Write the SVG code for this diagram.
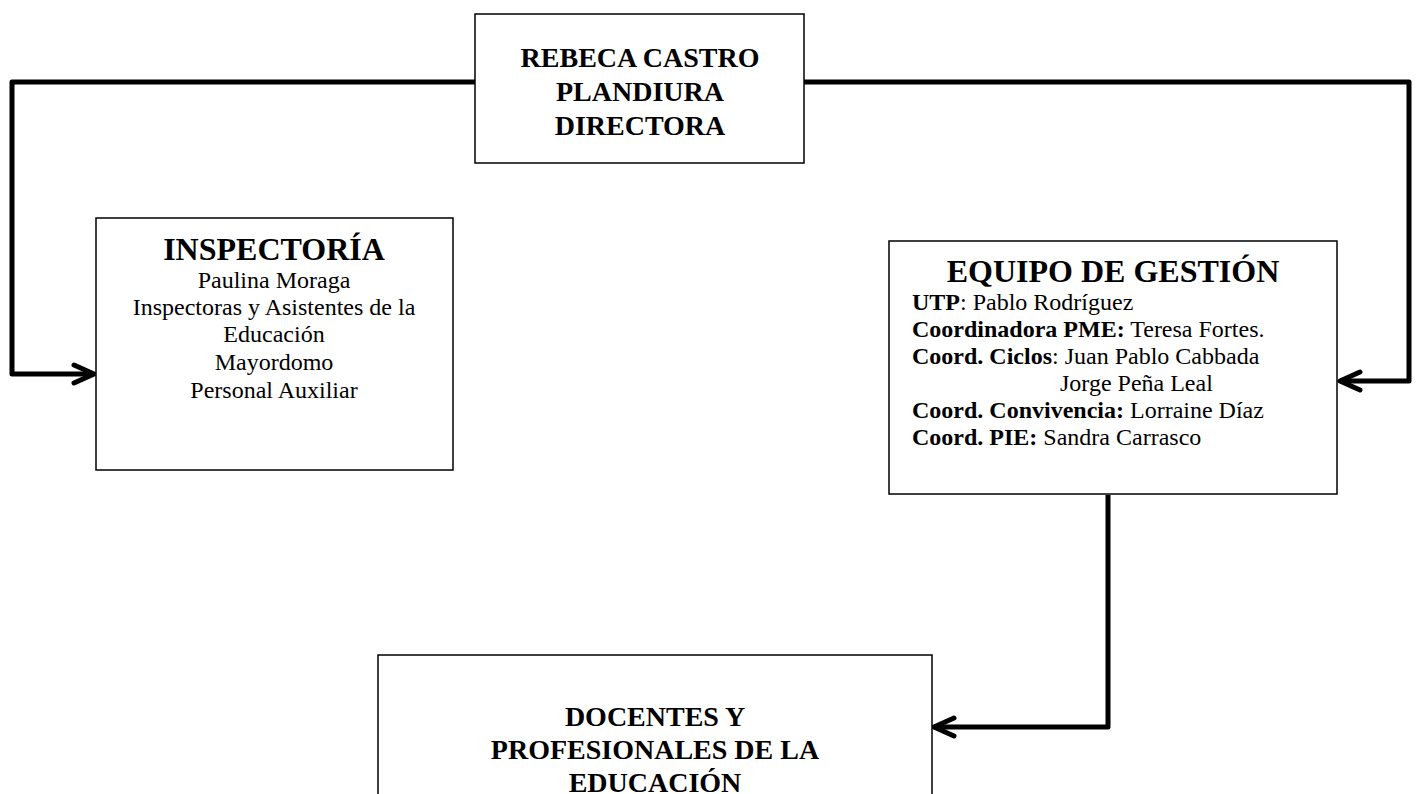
<svg xmlns="http://www.w3.org/2000/svg" width="1417" height="794" viewBox="0 0 1417 794">
<style>
.box{fill:#fff;stroke:#000;stroke-width:1.5}
.t{font-family:"Liberation Serif","Times New Roman",serif;fill:#000}
.h{font-weight:bold;font-size:28px;text-anchor:middle}
.h2{font-weight:bold;font-size:32px;text-anchor:middle}
.b{font-size:24px}
.c{text-anchor:middle}
.k{font-weight:bold}
.conn{fill:none;stroke:#000;stroke-width:5;stroke-linejoin:round}
</style>
<defs>
<marker id="arr" viewBox="0 0 26 24" refX="23" refY="12" markerWidth="26" markerHeight="24" markerUnits="userSpaceOnUse" orient="auto">
<path d="M3,3 L23,12 L3,21" fill="none" stroke="#000" stroke-width="5" stroke-linecap="round" stroke-linejoin="round"/>
</marker>
</defs>
<g id="connectors">
<path class="conn" d="M475,82 H12 V374 H94" marker-end="url(#arr)"/>
<path class="conn" d="M804,82 H1409 V381 H1340" marker-end="url(#arr)"/>
<path class="conn" d="M1108,495 V727 H934" marker-end="url(#arr)"/>
</g>
<g id="directora">
<rect class="box" x="475" y="14" width="329" height="149"/>
<text class="t h" x="640" y="67">REBECA CASTRO</text>
<text class="t h" x="640" y="101">PLANDIURA</text>
<text class="t h" x="640" y="135">DIRECTORA</text>
</g>
<g id="inspectoria">
<rect class="box" x="96" y="218" width="357" height="252"/>
<text class="t h2" x="274" y="260">INSPECTORÍA</text>
<text class="t b c" x="274" y="288">Paulina Moraga</text>
<text class="t b c" x="274" y="315">Inspectoras y Asistentes de la</text>
<text class="t b c" x="274" y="342">Educación</text>
<text class="t b c" x="274" y="370">Mayordomo</text>
<text class="t b c" x="274" y="398">Personal Auxiliar</text>
</g>
<g id="equipo">
<rect class="box" x="889" y="241" width="448" height="253"/>
<text class="t h2" x="1113" y="282">EQUIPO DE GESTIÓN</text>
<text class="t b" x="912" y="310"><tspan class="k">UTP</tspan>: Pablo Rodríguez</text>
<text class="t b" x="912" y="337"><tspan class="k">Coordinadora PME:</tspan> Teresa Fortes.</text>
<text class="t b" x="912" y="364"><tspan class="k">Coord. Ciclos</tspan>: Juan Pablo Cabbada</text>
<text class="t b" x="1060" y="391">Jorge Peña Leal</text>
<text class="t b" x="912" y="418"><tspan class="k">Coord. Convivencia:</tspan> Lorraine Díaz</text>
<text class="t b" x="912" y="445"><tspan class="k">Coord. PIE:</tspan> Sandra Carrasco</text>
</g>
<g id="docentes">
<rect class="box" x="378" y="655" width="554" height="170"/>
<text class="t h" x="655" y="726">DOCENTES Y</text>
<text class="t h" x="655" y="759">PROFESIONALES DE LA</text>
<text class="t h" x="655" y="792">EDUCACIÓN</text>
</g>
</svg>
